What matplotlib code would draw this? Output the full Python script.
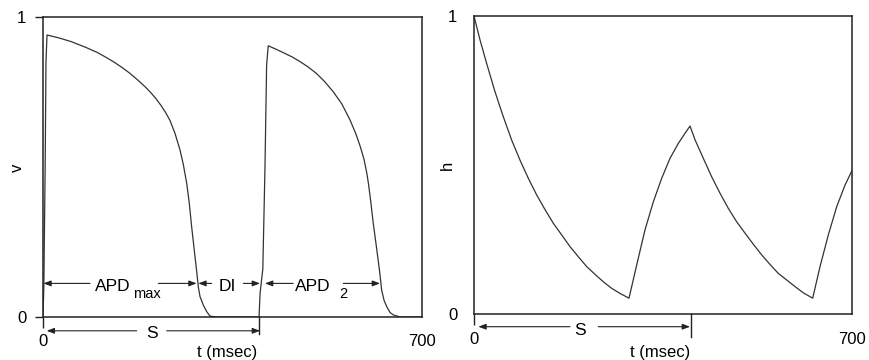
import matplotlib
matplotlib.use('Agg')
import matplotlib.pyplot as plt

plt.rcParams['font.family'] = ['Liberation Sans', 'DejaVu Sans']

# ---- data ----
t_v = [0, 1.5, 4, 5.5, 7.4, 30, 52, 80, 100, 114, 130, 145, 160, 175, 190, 200,
       209, 218, 226, 234.6, 243.8, 253, 259, 265.4, 270.2, 274.6, 280.8, 284,
       286.9, 290, 296, 302.3, 308.5, 320, 360, 399,
       401, 406, 410, 413, 416, 430, 444, 460, 475, 490, 505, 520, 536, 552,
       567, 578, 586, 593, 598, 601, 605, 610, 615, 619, 622.5, 625.5, 630,
       635, 641, 647, 660, 700]
v = [0.0, 0.10, 0.50, 0.85, 0.94, 0.93, 0.918, 0.898, 0.882, 0.868, 0.851,
     0.833, 0.813, 0.79, 0.765, 0.746, 0.727, 0.705, 0.683, 0.655, 0.612, 0.557,
     0.51, 0.446, 0.379, 0.30, 0.20, 0.15, 0.10, 0.068, 0.04, 0.018, 0.003,
     0.0, 0.0, 0.0,
     0.08, 0.16, 0.50, 0.84, 0.904, 0.893, 0.881, 0.867, 0.851, 0.833, 0.812,
     0.785, 0.751, 0.71, 0.657, 0.61, 0.568, 0.525, 0.48, 0.446, 0.39, 0.312,
     0.245, 0.19, 0.14, 0.09, 0.055, 0.034, 0.015, 0.007, 0.0, 0.0]

t_h = [0, 11.1, 23.4, 38.9, 54.3, 69.7, 85.1, 100.5, 116, 131.4, 146.8, 162.3,
       177.6, 193, 208.5, 223.9, 239.3, 254.8, 270.2, 286.8,
       301, 316.4, 331.8, 347.3, 362.7, 378.1, 390.5, 399.7,
       409, 424.3, 439.8, 455.2, 470.6, 486.1, 501.5, 516.8, 532.4, 547.8,
       563.1, 578.6, 594, 609.4, 626.7,
       640.3, 655.6, 671.2, 686.5, 700]
h = [1.0, 0.920, 0.841, 0.746, 0.662, 0.584, 0.517, 0.456, 0.400, 0.351, 0.305,
     0.266, 0.227, 0.193, 0.160, 0.134, 0.109, 0.087, 0.070, 0.054,
     0.165, 0.283, 0.377, 0.456, 0.523, 0.573, 0.607, 0.631,
     0.585, 0.523, 0.461, 0.406, 0.355, 0.310, 0.272, 0.235, 0.199, 0.167,
     0.137, 0.115, 0.093, 0.072, 0.054,
     0.160, 0.266, 0.361, 0.433, 0.484]

x_ticks = [0, 700]
y_ticks = [0, 1]
S = 400
xlabel = 't (msec)'

# ---- figure ----
fig = plt.figure(figsize=(8.69, 3.6), dpi=100)
ax1 = fig.add_axes([43 / 869, 43 / 360, 379 / 869, 300 / 360])
ax2 = fig.add_axes([474 / 869, 45.7 / 360, 378.3 / 869, 298.3 / 360])

spine_c = '#222222'
line_c = '#333333'

for ax in (ax1, ax2):
    ax.set_xlim(0, 700)
    ax.set_ylim(0, 1)
    ax.set_xticks(x_ticks)
    ax.set_yticks(y_ticks)
    ax.set_xticklabels([str(x) for x in x_ticks])
    ax.set_yticklabels([str(y) for y in y_ticks])
    for s in ax.spines.values():
        s.set_linewidth(1.1)
        s.set_color(spine_c)
    ax.tick_params(axis='x', direction='out', length=8, width=1.0, pad=4.5,
                   labelsize=12, color=spine_c)
    ax.xaxis.get_major_ticks()[1].tick1line.set_visible(False)

ax1.tick_params(axis='y', direction='out', length=6, width=1.0, pad=6,
                labelsize=12, color=spine_c)
ax2.tick_params(axis='y', length=0, pad=12, labelsize=12)

ax1.plot(t_v, v, color=line_c, lw=0.9)
ax2.plot(t_h, h, color=line_c, lw=0.9)

# axis labels
ax1.text(-0.0686, 0.497, 'v', rotation=90, ha='center', va='center',
         transform=ax1.transAxes, fontsize=12)
ax2.text(-0.070, 0.498, 'h', rotation=90, ha='center', va='center',
         transform=ax2.transAxes, fontsize=12)
ax1.text(0.485, -0.093, xlabel, ha='center', va='top',
         transform=ax1.transAxes, fontsize=12)
ax2.text(0.4917, -0.103, xlabel, ha='center', va='top',
         transform=ax2.transAxes, fontsize=12)


def arrow(ax, tail, tip, y):
    ax.annotate('', xy=(tip, y), xytext=(tail, y),
                arrowprops=dict(arrowstyle='-|>,head_length=0.45,head_width=0.17',
                                color='#222222', lw=0.8, shrinkA=0, shrinkB=0),
                annotation_clip=False)


fs = 12.5
fs_sub = 10.5
# left panel annotations
ya = 0.112
arrow(ax1, 86.8, 0.6, ya)
arrow(ax1, 213, 283.8, ya)
ax1.text(96, 0.088, 'APD', fontsize=fs, ha='left', va='baseline')
ax1.text(166, 0.062, 'max', fontsize=fs_sub, ha='left', va='baseline')
arrow(ax1, 311.6, 286.8, ya)
arrow(ax1, 370, 400.8, ya)
ax1.text(323.8, 0.088, 'DI', fontsize=fs, ha='left', va='baseline')
arrow(ax1, 462, 410, ya)
arrow(ax1, 554.6, 622.5, ya)
ax1.text(465.5, 0.088, 'APD', fontsize=fs, ha='left', va='baseline')
ax1.text(547, 0.062, '2', fontsize=fs_sub, ha='left', va='baseline')

ys = -0.046
arrow(ax1, 173, 6.8, ys)
arrow(ax1, 228.5, 400.8, ys)
ax1.text(202, -0.071, 'S', fontsize=fs, ha='center', va='baseline')
ax1.plot([S - 0.5, S - 0.5], [0, -0.055], color=spine_c, lw=1.0, clip_on=False)

# right panel annotations
ys2 = -0.0416
arrow(ax2, 177.6, 8, ys2)
arrow(ax2, 230, 399.7, ys2)
ax2.text(196.4, -0.069, 'S', fontsize=fs, ha='center', va='baseline')
ax2.plot([S + 1.5, S + 1.5], [0, -0.075], color=spine_c, lw=1.0, clip_on=False)

fig.savefig('out.png', dpi=100)
